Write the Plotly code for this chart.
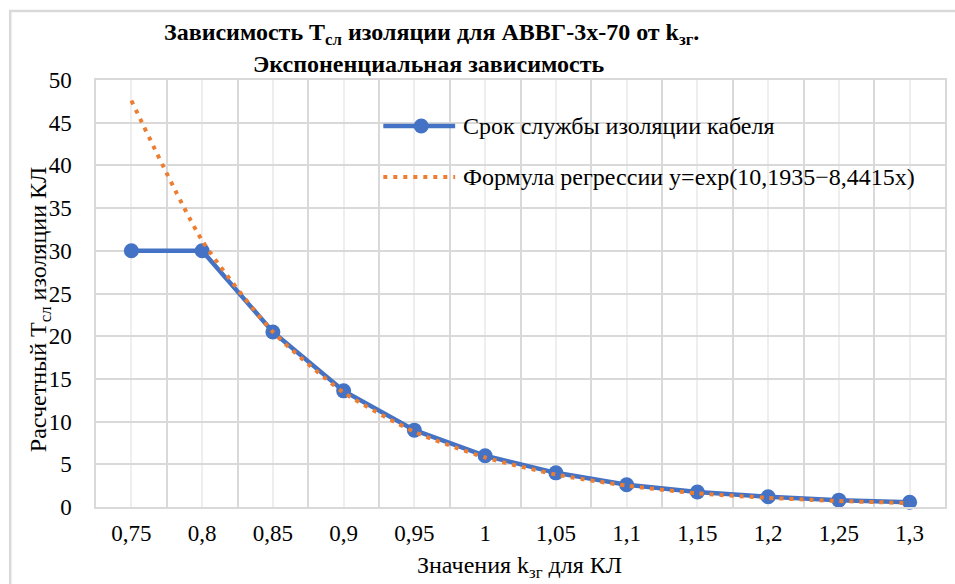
import plotly.graph_objects as go

# Category labels (k_зг values) and the two series
categories = ["0,75", "0,8", "0,85", "0,9", "0,95", "1", "1,05", "1,1", "1,15", "1,2", "1,25", "1,3"]
service_life = [30, 30, 20.5, 13.6, 9.0, 6.0, 4.0, 2.6, 1.75, 1.2, 0.8, 0.55]
regression = [47.6, 31.2, 20.5, 13.4, 8.8, 5.8, 3.8, 2.5, 1.6, 1.07, 0.70, 0.46]
y_ticks = list(range(0, 51, 5))

W, H = 955, 584
L, R, T, B = 96, 947, 80, 507  # plot area edges in pixels

BLUE = "#4472C4"
ORANGE = "#ED7D31"
GRID = "#d9d9d9"
GRID_LIGHT = "#eeeeee"
FONT = "'Times New Roman', 'Liberation Serif', serif"


def px_x(p):
    return (p - L) / (R - L)


def px_y(p):
    return (B - p) / (B - T)


x_idx = list(range(len(categories)))

fig = go.Figure()
fig.add_trace(go.Scatter(
    x=x_idx, y=service_life, mode="lines+markers",
    line=dict(color=BLUE, width=4.5),
    marker=dict(color=BLUE, size=15),
    showlegend=False, cliponaxis=False,
))
fig.add_trace(go.Scatter(
    x=x_idx, y=regression, mode="lines",
    line=dict(color=ORANGE, width=4, dash="4px,6px", shape="spline", smoothing=0.6),
    showlegend=False, cliponaxis=False,
))

shapes = [
    # chart frame
    dict(type="rect", xref="paper", yref="paper",
         x0=px_x(10), x1=px_x(990), y0=px_y(620), y1=px_y(11),
         line=dict(color=GRID, width=2.5), fillcolor="rgba(0,0,0,0)", layer="below"),
    # legend samples
    dict(type="line", xref="paper", yref="paper",
         x0=px_x(384), x1=px_x(456), y0=px_y(126), y1=px_y(126),
         line=dict(color=BLUE, width=4.5)),
    dict(type="circle", xref="paper", yref="paper",
         x0=px_x(414.5), x1=px_x(429.5), y0=px_y(118.5), y1=px_y(133.5),
         fillcolor=BLUE, line=dict(color=BLUE, width=0)),
    dict(type="line", xref="paper", yref="paper",
         x0=px_x(384), x1=px_x(456), y0=px_y(177), y1=px_y(177),
         line=dict(color=ORANGE, width=4, dash="4px,6px")),
]


def text_note(text, x, y, size, xanchor="center", angle=0, yanchor="middle", pad=1):
    return dict(text=text, xref="paper", yref="paper", x=px_x(x), y=px_y(y),
                xanchor=xanchor, yanchor=yanchor, showarrow=False, textangle=angle,
                borderpad=pad, font=dict(family=FONT, size=size, color="#000000"))


annotations = [
    text_note("<b>Зависимость Т<sub>сл</sub> изоляции для АВВГ-3х-70 от k<sub>зг</sub>.</b>",
              432, 50, 24, yanchor="bottom", pad=0),
    text_note("<b>Экспоненциальная зависимость</b>", 430, 50, 24, yanchor="top", pad=0),
    text_note("Срок службы изоляции кабеля", 462, 126, 24, xanchor="left"),
    text_note("Формула регрессии y=exp(10,1935−8,4415x)", 462, 177, 24, xanchor="left"),
    text_note("Расчетный Т<sub>сл</sub> изоляции КЛ", 40, 310, 24, angle=-90),
    text_note("Значения k<sub>зг</sub> для КЛ", 520, 567, 24),
]

fig.update_layout(
    width=W, height=H,
    margin=dict(l=L, r=W - R, t=T, b=H - B),
    paper_bgcolor="white", plot_bgcolor="white",
    shapes=shapes, annotations=annotations,
    font=dict(family=FONT, size=23, color="#000000"),
)
fig.update_xaxes(
    range=[-0.5, len(categories) - 0.5],
    tickmode="array", tickvals=x_idx, ticktext=categories,
    showgrid=True, gridcolor=GRID_LIGHT, gridwidth=1.5,
    minor=dict(tickmode="array", tickvals=[i - 0.5 for i in range(len(categories) + 1)],
               showgrid=True, gridcolor=GRID, gridwidth=1.5),
    showline=True, linecolor=GRID, linewidth=1.5, mirror=True,
    zeroline=False, ticks="", ticklabelstandoff=5,
    tickfont=dict(family=FONT, size=23, color="#000000"),
)
fig.update_yaxes(
    range=[0, 50], tickmode="array", tickvals=y_ticks,
    showgrid=True, gridcolor=GRID, gridwidth=1.5,
    showline=True, linecolor=GRID, linewidth=1.5, mirror=True,
    zeroline=False, ticks="", ticklabelstandoff=18,
    tickfont=dict(family=FONT, size=23, color="#000000"),
)

fig.write_html("out.html")
